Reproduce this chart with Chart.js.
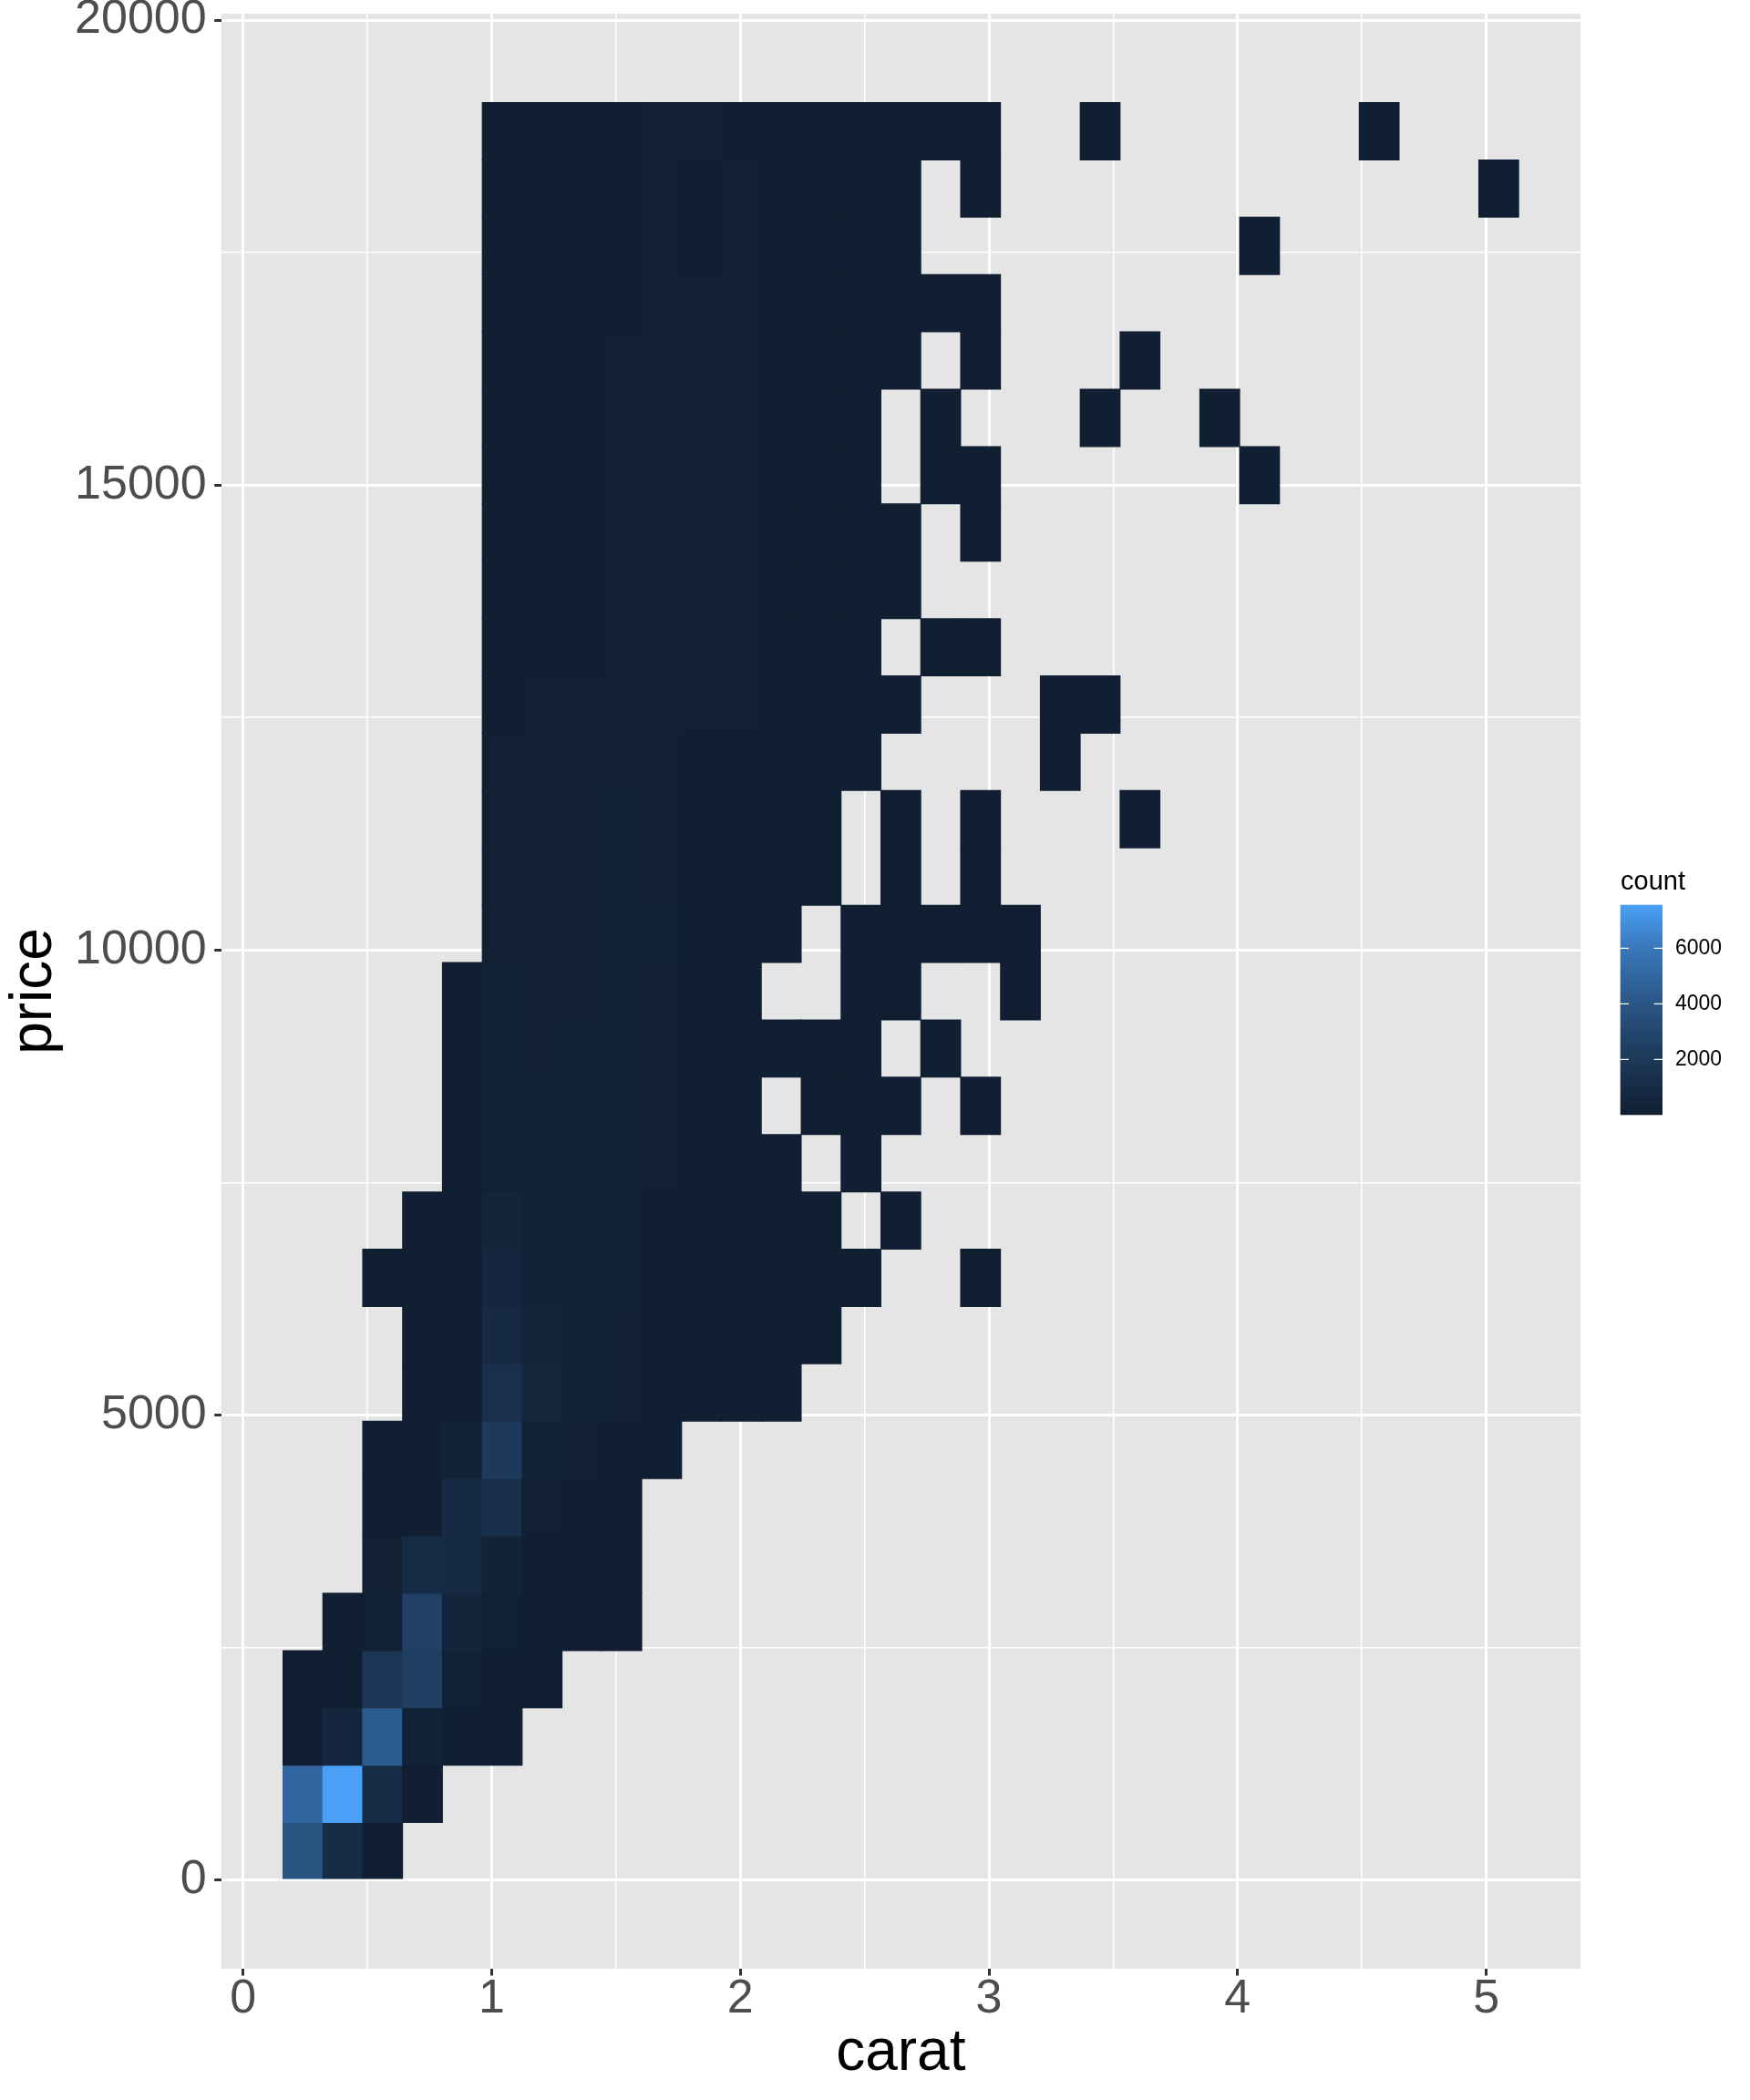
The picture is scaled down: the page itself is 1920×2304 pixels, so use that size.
<!DOCTYPE html>
<html>
<head>
<meta charset="utf-8">
<script src="https://cdn.jsdelivr.net/npm/chart.js@4.4.1/dist/chart.umd.min.js"></script>
<style>
  html, body { margin: 0; padding: 0; background: #ffffff; }
  #wrap { width: 1920px; height: 2304px; }
</style>
</head>
<body>
<div id="wrap"><canvas id="binChart" width="1920" height="2304"></canvas></div>
<script>
// 2d bins: carat on x, price on y (30 bins over each data range)
const caratOrigin = 0.16033;
const caratBinWidth = 0.16033;
const priceOrigin = 0;
const priceBinWidth = 616.57;

// counts, one row per price bin (lowest first), one entry per carat bin from the left
const countRows = [
    [3900, 1050, 60],
    [4900, 7560, 960, 60],
    [30, 640, 4300, 240, 60, 20],
    [8, 50, 1760, 2400, 240, 60, 20],
    [0, 5, 240, 2530, 480, 160, 40, 15, 10],
    [0, 0, 100, 1000, 850, 350, 50, 20, 15],
    [0, 0, 20, 70, 900, 1300, 120, 40, 20],
    [0, 0, 15, 50, 300, 2100, 300, 90, 40, 20],
    [0, 0, 0, 40, 70, 1400, 550, 220, 90, 40, 30, 25, 15],
    [0, 0, 0, 20, 50, 900, 500, 220, 100, 50, 35, 30, 20, 10],
    [0, 0, 3, 20, 30, 650, 350, 220, 130, 60, 40, 35, 25, 12, 5, 0, 0, 1],
    [0, 0, 0, 10, 20, 480, 330, 220, 170, 70, 45, 40, 25, 10, 0, 2],
    [0, 0, 0, 0, 15, 250, 220, 200, 190, 110, 50, 40, 20, 0, 3],
    [0, 0, 0, 0, 10, 180, 150, 170, 200, 100, 50, 35, 0, 6, 4, 2, 0, 1],
    [0, 0, 0, 0, 8, 150, 120, 150, 190, 100, 50, 40, 20, 8, 4, 0, 1],
    [0, 0, 0, 0, 5, 130, 110, 120, 170, 110, 50, 30, 0, 0, 3, 2, 0, 0, 1],
    [0, 0, 0, 0, 0, 110, 100, 110, 150, 130, 60, 40, 20, 0, 5, 3, 2, 2, 1],
    [0, 0, 0, 0, 0, 100, 90, 90, 140, 120, 60, 50, 30, 8, 0, 3, 0, 2],
    [0, 0, 0, 0, 0, 90, 90, 80, 130, 110, 70, 60, 30, 10, 0, 3, 0, 2, 0, 0, 0, 1],
    [0, 0, 0, 0, 0, 80, 90, 80, 110, 100, 70, 70, 35, 15, 6, 0, 0, 0, 0, 1],
    [0, 0, 0, 0, 0, 70, 80, 80, 100, 100, 80, 80, 40, 20, 8, 3, 0, 0, 0, 2, 1],
    [0, 0, 0, 0, 0, 60, 70, 75, 90, 100, 85, 85, 45, 20, 8, 0, 2, 2],
    [0, 0, 0, 0, 0, 50, 60, 70, 90, 110, 90, 90, 50, 25, 10, 4],
    [0, 0, 0, 0, 0, 45, 55, 65, 90, 100, 90, 95, 55, 25, 10, 4, 0, 2],
    [0, 0, 0, 0, 0, 40, 50, 60, 85, 100, 85, 90, 50, 25, 10, 0, 2, 1, 0, 0, 0, 0, 0, 0, 1],
    [0, 0, 0, 0, 0, 35, 45, 55, 85, 95, 90, 120, 50, 20, 8, 0, 2, 0, 0, 0, 1, 0, 0, 1],
    [0, 0, 0, 0, 0, 30, 40, 55, 80, 100, 85, 90, 45, 20, 8, 3, 0, 1, 0, 0, 0, 1],
    [0, 0, 0, 0, 0, 28, 35, 50, 75, 95, 80, 85, 40, 20, 8, 3, 2, 2],
    [0, 0, 0, 0, 0, 25, 30, 45, 70, 90, 75, 80, 40, 18, 7, 3, 0, 0, 0, 0, 0, 0, 0, 0, 1],
    [0, 0, 0, 0, 0, 22, 28, 40, 65, 85, 70, 80, 35, 15, 6, 3, 0, 1, 0, 0, 0, 0, 0, 0, 0, 0, 0, 0, 0, 0, 1],
    [0, 0, 0, 0, 0, 20, 25, 35, 60, 80, 90, 75, 35, 15, 6, 3, 2, 2, 0, 0, 1, 0, 0, 0, 0, 0, 0, 1]
];

const caratTickLabels = [0, 1, 2, 3, 4, 5];
const priceTickLabels = [0, 5000, 10000, 15000, 20000];
const legendBreaks = [2000, 4000, 6000];

// dark navy -> light blue, like the default continuous fill
const countColorStops = [
    [0, [16, 31, 49]],
    [0.2645, [29, 56, 89]],
    [0.529, [42, 86, 133]],
    [0.794, [57, 119, 186]],
    [1, [74, 159, 247]]
];

const fontFamily = "'Liberation Sans', Arial, Helvetica, sans-serif";

const allCounts = countRows.flat().filter(v => v > 0);
const countMin = Math.min(...allCounts);
const countMax = Math.max(...allCounts);

function countColor(n) {
    const t = (n - countMin) / (countMax - countMin);
    for (let k = 1; k < countColorStops.length; k++) {
        const [t0, c0] = countColorStops[k - 1];
        const [t1, c1] = countColorStops[k];
        if (t <= t1) {
            const f = (t - t0) / (t1 - t0);
            return 'rgb(' + c0.map((v, m) => Math.round(v + (c1[m] - v) * f)).join(',') + ')';
        }
    }
    return 'rgb(' + countColorStops[countColorStops.length - 1][1].join(',') + ')';
}

const cells = [];
countRows.forEach((row, j) => {
    row.forEach((n, i) => {
        if (!n) return;
        const lo = priceOrigin + j * priceBinWidth;
        cells.push({ x: caratOrigin + (i + 0.5) * caratBinWidth, y: [lo, lo + priceBinWidth], count: n });
    });
});

// ggplot style 5% expansion around the bin edges
const nCaratBins = Math.max(...countRows.map(r => r.length));
const xLo = caratOrigin, xHi = caratOrigin + nCaratBins * caratBinWidth;
const yLo = priceOrigin, yHi = priceOrigin + countRows.length * priceBinWidth;
const xPad = (xHi - xLo) * 0.05, yPad = (yHi - yLo) * 0.05;

// major breaks plus the minor ones halfway between them
function withMinor(majors) {
    const out = [];
    majors.forEach((v, k) => {
        out.push(v);
        if (k < majors.length - 1) out.push((v + majors[k + 1]) / 2);
    });
    return out.map(v => ({ value: v }));
}

const panelBackground = {
    id: 'panelBackground',
    beforeDraw(chart) {
        const { ctx, chartArea: a } = chart;
        ctx.save();
        ctx.fillStyle = '#E5E5E5';
        ctx.fillRect(a.left, a.top, a.right - a.left, a.bottom - a.top);
        ctx.restore();
    }
};

const countLegend = {
    id: 'countLegend',
    afterDraw(chart) {
        const ctx = chart.ctx;
        const left = 1777.7, right = 1824, top = 992.7, bottom = 1223.3;
        ctx.save();
        ctx.fillStyle = '#000000';
        ctx.font = '29px ' + fontFamily;
        ctx.textAlign = 'left';
        ctx.textBaseline = 'alphabetic';
        ctx.fillText('count', 1778, 976);

        const grad = ctx.createLinearGradient(0, bottom, 0, top);
        countColorStops.forEach(([t, c]) => grad.addColorStop(t, 'rgb(' + c.join(',') + ')'));
        ctx.fillStyle = grad;
        ctx.fillRect(left, top, right - left, bottom - top);

        ctx.strokeStyle = '#FFFFFF';
        ctx.lineWidth = 1.2;
        ctx.font = '23px ' + fontFamily;
        ctx.textBaseline = 'middle';
        ctx.fillStyle = '#000000';
        const tickLen = (right - left) / 5;
        legendBreaks.forEach(v => {
            const y = bottom - (v - countMin) / (countMax - countMin) * (bottom - top);
            ctx.beginPath();
            ctx.moveTo(left, y); ctx.lineTo(left + tickLen, y);
            ctx.moveTo(right - tickLen, y); ctx.lineTo(right, y);
            ctx.stroke();
            ctx.fillText(String(v), 1838, y);
        });
        ctx.restore();
    }
};

new Chart(document.getElementById('binChart'), {
    type: 'bar',
    data: {
        datasets: [{
            data: cells,
            backgroundColor: ctx => countColor(ctx.raw.count),
            borderWidth: 0,
            barPercentage: 1,
            categoryPercentage: 1,
            inflateAmount: 0.5
        }]
    },
    options: {
        responsive: false,
        animation: false,
        devicePixelRatio: 1,
        events: [],
        layout: { padding: { left: 0, top: 15, right: 186, bottom: 0 } },
        plugins: {
            legend: { display: false },
            tooltip: { enabled: false }
        },
        scales: {
            x: {
                type: 'linear',
                min: xLo - xPad,
                max: xHi + xPad,
                offset: false,
                border: { display: false },
                grid: {
                    offset: false,
                    color: '#FFFFFF',
                    lineWidth: ctx => caratTickLabels.includes(ctx.tick.value) ? 3 : 1.5,
                    tickLength: 7.5,
                    tickWidth: 3,
                    tickColor: ctx => caratTickLabels.includes(ctx.tick.value) ? '#333333' : 'rgba(0,0,0,0)'
                },
                afterBuildTicks: s => { s.ticks = withMinor(caratTickLabels); },
                ticks: {
                    autoSkip: false,
                    maxRotation: 0,
                    padding: 0,
                    color: '#4D4D4D',
                    font: { family: fontFamily, size: 52, lineHeight: 1 },
                    callback: v => caratTickLabels.includes(v) ? String(v) : ''
                },
                title: {
                    display: true,
                    text: 'carat',
                    color: '#000000',
                    font: { family: fontFamily, size: 64, lineHeight: 1.2 },
                    padding: { top: 0, bottom: 12 }
                },
                afterFit: s => {
                    s.height = 144;
                    s.paddingLeft = 0; s.paddingRight = 0;
                }
            },
            y: {
                type: 'linear',
                min: yLo - yPad,
                max: yHi + yPad,
                border: { display: false },
                grid: {
                    color: '#FFFFFF',
                    lineWidth: ctx => priceTickLabels.includes(ctx.tick.value) ? 3 : 1.5,
                    tickLength: 7.5,
                    tickWidth: 3,
                    tickColor: ctx => priceTickLabels.includes(ctx.tick.value) ? '#333333' : 'rgba(0,0,0,0)'
                },
                afterBuildTicks: s => { s.ticks = withMinor(priceTickLabels); },
                ticks: {
                    autoSkip: false,
                    padding: 8.5,
                    color: '#4D4D4D',
                    font: { family: fontFamily, size: 52, lineHeight: 1 },
                    callback: v => priceTickLabels.includes(v) ? String(v) : ''
                },
                title: {
                    display: true,
                    text: 'price',
                    color: '#000000',
                    font: { family: fontFamily, size: 64, lineHeight: 1.2 },
                    padding: { top: 0, bottom: 0 }
                },
                afterFit: s => {
                    s.width = 242.7;
                    s.paddingTop = 0; s.paddingBottom = 0;
                }
            }
        }
    },
    plugins: [panelBackground, countLegend]
});
</script>
</body>
</html>
